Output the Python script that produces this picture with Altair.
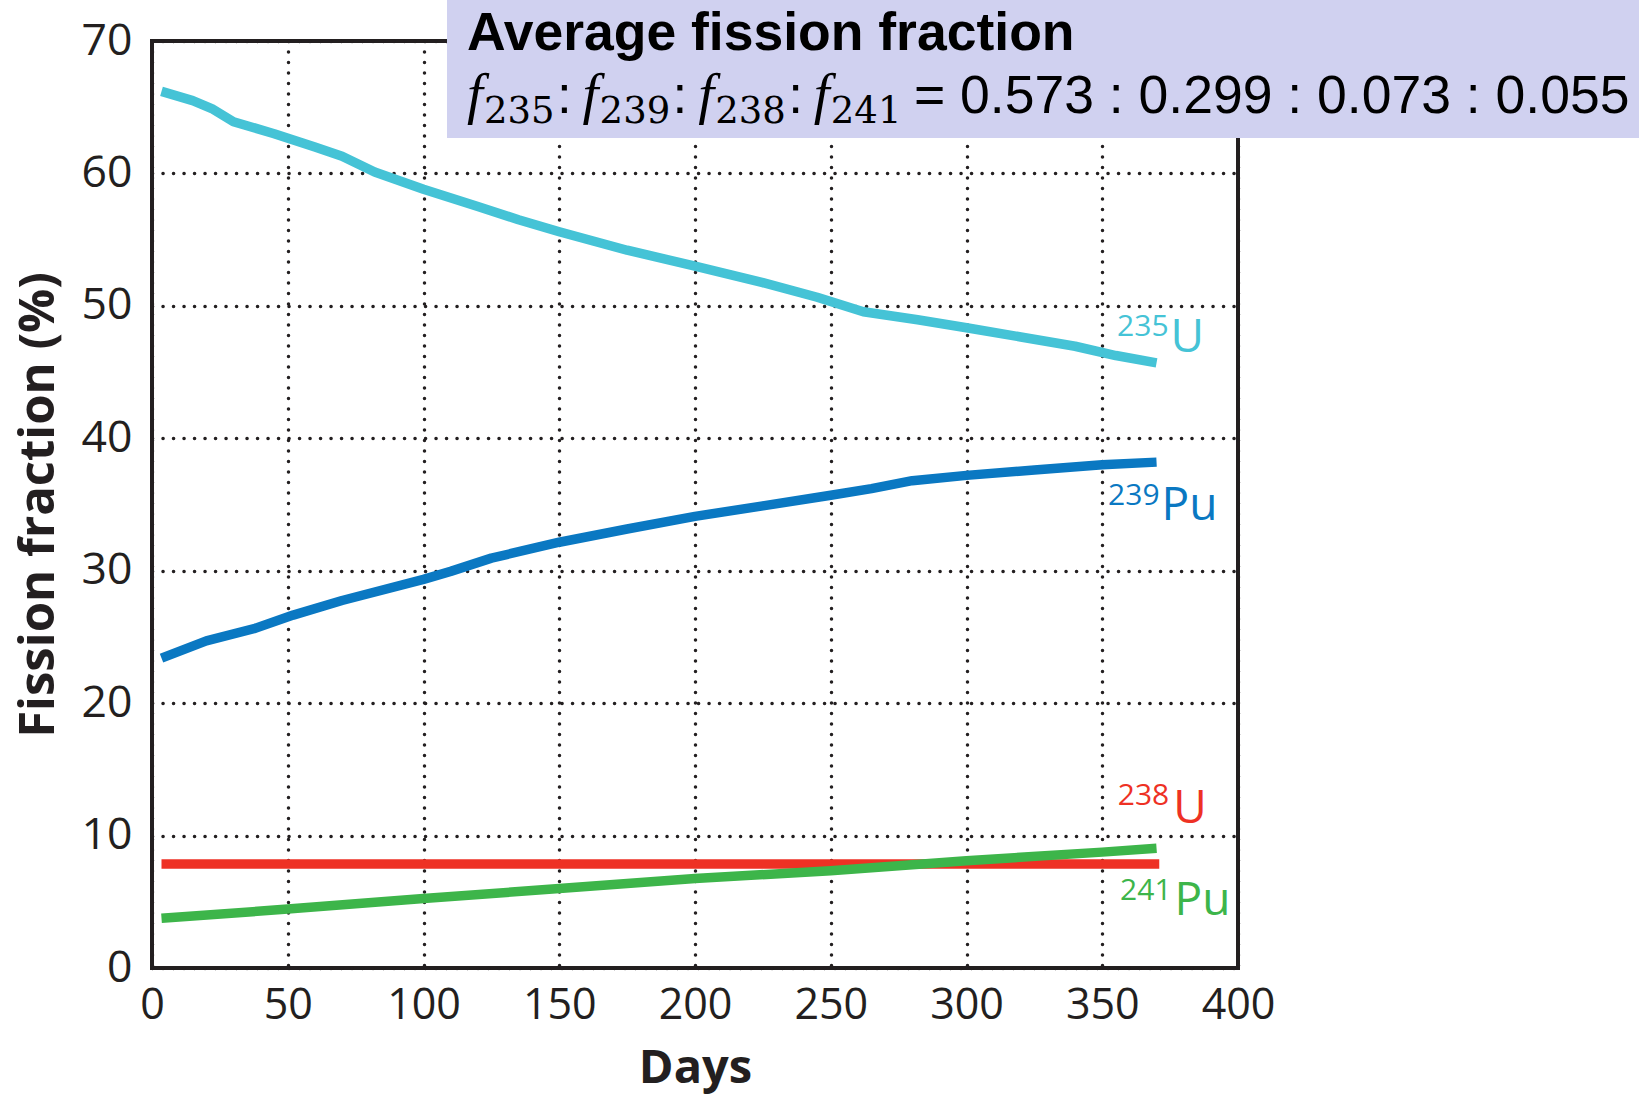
import altair as alt
import pandas as pd

# ---- data ----
days_u235 = [3.5, 15, 22, 30, 45, 60, 70, 82, 100, 120, 135, 150, 175, 200, 225, 245, 262, 282, 300, 320, 340, 355, 370]
u235 = [66.2, 65.5, 64.9, 63.9, 63.0, 62.0, 61.3, 60.1, 58.8, 57.5, 56.5, 55.6, 54.2, 53.0, 51.75, 50.65, 49.55, 48.95, 48.35, 47.65, 46.95, 46.25, 45.7]

days_pu239 = [3.5, 20, 38, 52, 70, 100, 110, 125, 150, 175, 200, 225, 250, 265, 280, 300, 325, 350, 370]
pu239 = [23.4, 24.7, 25.65, 26.65, 27.75, 29.35, 29.95, 30.95, 32.15, 33.15, 34.1, 34.9, 35.7, 36.2, 36.8, 37.2, 37.6, 38.0, 38.2]

days_u238 = [3.5, 371]
u238 = [7.85, 7.85]

days_pu241 = [3.5, 50, 100, 150, 200, 250, 300, 350, 370]
pu241 = [3.75, 4.45, 5.25, 6.0, 6.75, 7.35, 8.1, 8.75, 9.05]

x_ticks = [0, 50, 100, 150, 200, 250, 300, 350, 400]
y_ticks = [0, 10, 20, 30, 40, 50, 60, 70]

title_line = "Average fission fraction"
f_subscripts = ["235", "239", "238", "241"]
ratio_text = "= 0.573 : 0.299 : 0.073 : 0.055"

series = [
    ("U235", days_u235, u235, "#45C3D6", "235", "U"),
    ("Pu239", days_pu239, pu239, "#0A78C2", "239", "Pu"),
    ("U238", days_u238, u238, "#EE3124", "238", "U"),
    ("Pu241", days_pu241, pu241, "#3DB54A", "241", "Pu"),
]

# label offsets from each series' last point (pixels): (main dx, main dy, sup dx, sup dy)
label_offsets = {
    "U235": (14, -11, 12, -27),
    "Pu239": (5, 58, 3, 43),
    "U238": (14, -41, 10, -59),
    "Pu241": (18, 67, 15, 52),
}

INK = "#231F20"

x_enc = alt.X(
    "day:Q",
    scale=alt.Scale(domain=[0, 400], nice=False, zero=False),
    axis=alt.Axis(
        values=x_ticks, domain=False, ticks=False, labelFont="Open Sans",
        labelFontSize=43, labelColor=INK, labelPadding=16, labelFlush=False,
        labelOverlap=False, grid=True, gridColor=INK, gridDash=[0.1, 10.4],
        gridWidth=3.5, gridCap="round", title="Days", titleFont="Open Sans",
        titleFontWeight="bold", titleFontSize=47, titleColor=INK, titleY=114,
        titleBaseline="alphabetic",
    ),
)
y_enc = alt.Y(
    "frac:Q",
    scale=alt.Scale(domain=[0, 70], nice=False),
    axis=alt.Axis(
        values=y_ticks, domain=False, ticks=False, labelFont="Open Sans",
        labelFontSize=44.5, labelColor=INK, labelPadding=20, labelFlush=False,
        labelOverlap=False, grid=True, gridColor=INK, gridDash=[0.1, 10.4],
        gridWidth=3.5, gridCap="round", title="Fission fraction (%)",
        titleFont="Open Sans", titleFontWeight="bold", titleFontSize=49,
        titleColor=INK, titleX=-99, titleBaseline="alphabetic",
    ),
)

layers = []
for name, d, v, col, sup, main in series:
    df = pd.DataFrame({"day": d, "frac": v})
    layers.append(
        alt.Chart(df).mark_line(color=col, strokeWidth=9.5, strokeCap="butt", strokeJoin="round")
        .encode(x=x_enc, y=y_enc)
    )

for name, d, v, col, sup, main in series:
    last = pd.DataFrame({"day": [d[-1]], "frac": [v[-1]], "main": [main], "sup": [sup]})
    mdx, mdy, sdx, sdy = label_offsets[name]
    layers.append(
        alt.Chart(last).mark_text(
            color=col, font="Open Sans", fontSize=46, align="left",
            baseline="alphabetic", dx=mdx, dy=mdy,
        ).encode(x="day:Q", y="frac:Q", text="main:N")
    )
    layers.append(
        alt.Chart(last).mark_text(
            color=col, font="Open Sans", fontSize=30, align="right",
            baseline="alphabetic", dx=sdx, dy=sdy,
        ).encode(x="day:Q", y="frac:Q", text="sup:N")
    )

# annotation box (pixel positions relative to plot origin)
box_df = pd.DataFrame({"k": [0]})
layers.append(
    alt.Chart(box_df).mark_rect(color="#D0D1F0").encode(
        x=alt.value(295), x2=alt.value(1487), y=alt.value(-41), y2=alt.value(97)
    )
)
layers.append(
    alt.Chart(pd.DataFrame({"t": [title_line]})).mark_text(
        font="Liberation Sans", fontWeight="bold", fontSize=53.5, color="black",
        align="left", baseline="alphabetic",
    ).encode(x=alt.value(315), y=alt.value(9), text="t:N")
)
for i, s in enumerate(f_subscripts):
    x0 = 315 + i * 115.6
    layers.append(
        alt.Chart(pd.DataFrame({"t": ["f"]})).mark_text(
            font="Liberation Serif", fontStyle="italic", fontSize=57, color="black",
            align="left", baseline="alphabetic",
        ).encode(x=alt.value(x0), y=alt.value(72), text="t:N")
    )
    layers.append(
        alt.Chart(pd.DataFrame({"t": [s]})).mark_text(
            font="DejaVu Serif", fontSize=37, color="black",
            align="left", baseline="alphabetic",
        ).encode(x=alt.value(x0 + 17), y=alt.value(82), text="t:N")
    )
    if i < 3:
        layers.append(
            alt.Chart(pd.DataFrame({"t": [":"]})).mark_text(
                font="Liberation Sans", fontSize=53, color="black",
                align="left", baseline="alphabetic",
            ).encode(x=alt.value(x0 + 90), y=alt.value(72), text="t:N")
        )
layers.append(
    alt.Chart(pd.DataFrame({"t": [ratio_text]})).mark_text(
        font="Liberation Sans", fontSize=53.5, color="black",
        align="left", baseline="alphabetic",
    ).encode(x=alt.value(762), y=alt.value(72), text="t:N")
)

chart = (
    alt.layer(*layers)
    .properties(
        width=1086,
        height=927,
        autosize=alt.AutoSizeParams(type="none"),
        padding={"left": 152, "top": 41, "right": 401, "bottom": 129},
        background="white",
    )
    .configure_view(stroke=INK, strokeWidth=4)
)

chart.save("out.html", embed_options={"renderer": "svg", "actions": False})
